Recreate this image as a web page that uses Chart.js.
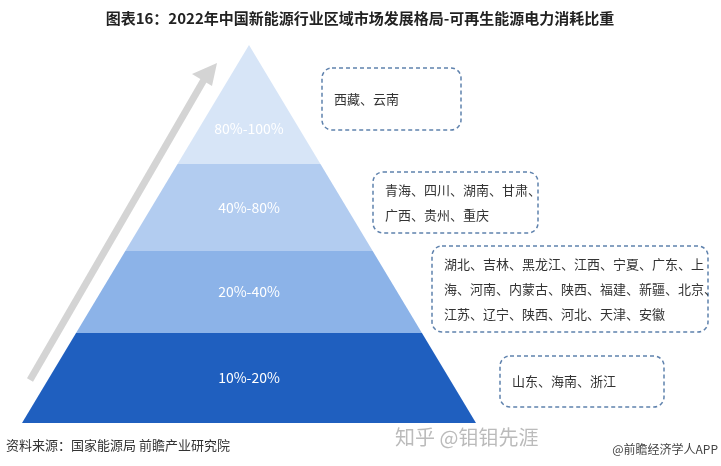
<!DOCTYPE html>
<html>
<head>
<meta charset="utf-8">
<script src="https://cdn.jsdelivr.net/npm/chart.js@4/dist/chart.umd.min.js"></script>
<style>
  html, body { margin: 0; padding: 0; background: #fff; }
  #wrap { width: 721px; height: 466px; }
</style>
</head>
<body>
<div id="wrap"><canvas id="pyramid"></canvas></div>
<script>
// Data
var tierLabels = ["80%-100%", "40%-80%", "20%-40%", "10%-20%"];
var tierColors = ["#d7e5f7", "#b2ccf0", "#8cb3e8", "#1f5fbf"];
var tierTops = [45, 164, 251, 333];
var tierBottoms = [164, 251, 333, 423];
var tierProvinces = [
    ["西藏、云南"],
    ["青海、四川、湖南、甘肃、", "广西、贵州、重庆"],
    ["湖北、吉林、黑龙江、江西、宁夏、广东、上", "海、河南、内蒙古、陕西、福建、新疆、北京、", "江苏、辽宁、陕西、河北、天津、安徽"],
    ["山东、海南、浙江"]
];
var boxRects = [[322, 68, 461, 130], [373, 172, 538, 233], [432, 246, 708, 332], [500, 356, 664, 407]];

var apexX = 249, apexY = 45, baseY = 423, baseHalf = 227;
var font = '"Noto Sans CJK SC", "Noto Sans", sans-serif';

function halfAt(y) { return (y - apexY) / (baseY - apexY) * baseHalf; }

function roundRect(ctx, x, y, w, h, r) {
    ctx.beginPath();
    ctx.moveTo(x + r, y);
    ctx.arcTo(x + w, y, x + w, y + h, r);
    ctx.arcTo(x + w, y + h, x, y + h, r);
    ctx.arcTo(x, y + h, x, y, r);
    ctx.arcTo(x, y, x + w, y, r);
    ctx.closePath();
}

var pyramidPlugin = {
    id: 'pyramid',
    afterDraw: function (chart) {
        var ctx = chart.ctx, sx = chart.scales.x, sy = chart.scales.y;
        var px = function (v) { return sx.getPixelForValue(v); };
        var py = function (v) { return sy.getPixelForValue(v); };
        ctx.save();

        // Title
        ctx.fillStyle = '#222';
        ctx.font = 'bold 15px ' + font;
        ctx.textAlign = 'center';
        ctx.textBaseline = 'middle';
        ctx.fillText('图表16：2022年中国新能源行业区域市场发展格局-可再生能源电力消耗比重', px(360), py(18));

        // Arrow
        ctx.strokeStyle = '#d4d4d4';
        ctx.fillStyle = '#d4d4d4';
        ctx.lineWidth = 7;
        ctx.beginPath();
        ctx.moveTo(px(30), py(380));
        ctx.lineTo(px(205), py(78));
        ctx.stroke();
        ctx.beginPath();
        ctx.moveTo(px(217), py(63));
        ctx.lineTo(px(192), py(74));
        ctx.lineTo(px(212), py(86));
        ctx.closePath();
        ctx.fill();

        // Tiers
        for (var i = 0; i < tierLabels.length; i++) {
            var t = tierTops[i], b = tierBottoms[i];
            ctx.fillStyle = tierColors[i];
            ctx.beginPath();
            ctx.moveTo(px(apexX - halfAt(t)), py(t));
            ctx.lineTo(px(apexX + halfAt(t)), py(t));
            ctx.lineTo(px(apexX + halfAt(b)), py(b));
            ctx.lineTo(px(apexX - halfAt(b)), py(b));
            ctx.closePath();
            ctx.fill();
            ctx.fillStyle = '#ffffff';
            ctx.font = '14px ' + font;
            ctx.textAlign = 'center';
            var ly = i === 0 ? t + (b - t) * 0.7 : (t + b) / 2;
            ctx.fillText(tierLabels[i], px(apexX), py(ly));

            // Boxes
            var r = boxRects[i];
            ctx.setLineDash([4, 3]);
            ctx.strokeStyle = '#5f82ad';
            ctx.lineWidth = 1.5;
            roundRect(ctx, px(r[0]), py(r[1]), px(r[2]) - px(r[0]), py(r[3]) - py(r[1]), 10);
            ctx.stroke();
            ctx.setLineDash([]);
            ctx.fillStyle = '#333';
            ctx.font = '13px ' + font;
            ctx.textAlign = 'left';
            var lines = tierProvinces[i];
            var mid = (r[1] + r[3]) / 2;
            for (var j = 0; j < lines.length; j++) {
                var yy = mid + (j - (lines.length - 1) / 2) * 25;
                ctx.fillText(lines[j], px(r[0] + 12), py(yy));
            }
        }

        // Footer
        ctx.fillStyle = '#333';
        ctx.font = '13px ' + font;
        ctx.textAlign = 'left';
        ctx.fillText('资料来源：国家能源局 前瞻产业研究院', px(6), py(445));
        ctx.fillStyle = '#bbb';
        ctx.font = '20px ' + font;
        ctx.fillText('知乎 @钼钼先涯', px(395), py(437));
        ctx.fillStyle = '#444';
        ctx.font = '12px ' + font;
        ctx.textAlign = 'right';
        ctx.fillText('@前瞻经济学人APP', px(718), py(449));
        ctx.restore();
    }
};

new Chart(document.getElementById('pyramid'), {
    type: 'scatter',
    data: { datasets: [{ data: [], pointRadius: 0 }] },
    options: {
        responsive: true,
        maintainAspectRatio: false,
        animation: false,
        layout: { padding: 0 },
        plugins: { legend: { display: false }, tooltip: { enabled: false } },
        scales: {
            x: { type: 'linear', min: 0, max: 721, display: false },
            y: { type: 'linear', min: 0, max: 466, reverse: true, display: false }
        }
    },
    plugins: [pyramidPlugin]
});
</script>
</body>
</html>
